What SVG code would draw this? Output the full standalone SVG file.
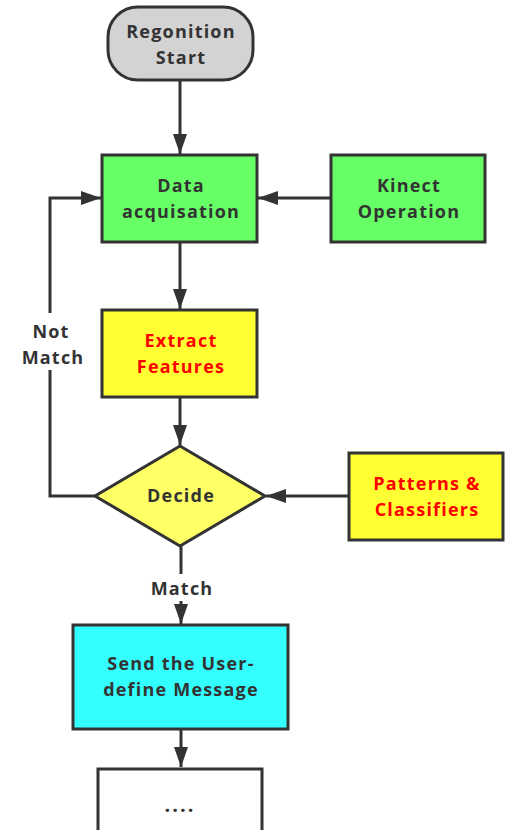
<svg xmlns="http://www.w3.org/2000/svg" width="506" height="830" viewBox="0 0 506 830">
<defs>
<style>
.n{stroke:#333;stroke-width:3}
.t{font-family:"Open Sans","DejaVu Sans",sans-serif;font-weight:bold;font-size:18px;letter-spacing:1.2px;fill:#333;text-anchor:middle}
.r{fill:#ff0000}
.c{fill:none;stroke:#333;stroke-width:3}
</style>
<marker id="a" viewBox="0 0 20 14" refX="20" refY="7" markerWidth="20" markerHeight="14" markerUnits="userSpaceOnUse" orient="auto">
<path d="M0,0 L20,7 L0,14 Z" fill="#333"/>
</marker>
</defs>
<rect width="506" height="830" fill="#fff"/>
<g id="connectors">
<path class="c" d="M180,80 V154" marker-end="url(#a)"/>
<path class="c" d="M330,198 H258" marker-end="url(#a)"/>
<path class="c" d="M180,242 V309" marker-end="url(#a)"/>
<path class="c" d="M180,397 V445" marker-end="url(#a)"/>
<path class="c" d="M349,496 H266" marker-end="url(#a)"/>
<path class="c" d="M95,496 H50 V370"/>
<path class="c" d="M50,313 V198 H101" marker-end="url(#a)"/>
<text class="t" x="51" y="338">Not</text>
<text class="t" x="53" y="364">Match</text>
<path class="c" d="M181,546 V574"/>
<path class="c" d="M181,601 V624" marker-end="url(#a)"/>
<text class="t" x="182" y="595">Match</text>
<path class="c" d="M181,729 V767" marker-end="url(#a)"/>
</g>
<g id="start">
<rect class="n" x="108" y="7" width="145" height="73" rx="30" fill="#d3d3d3"/>
<text class="t" x="181" y="38">Regonition</text>
<text class="t" x="181" y="64">Start</text>
</g>
<g id="data">
<rect class="n" x="102" y="155" width="155" height="87" fill="#66ff66"/>
<text class="t" x="181" y="192">Data</text>
<text class="t" x="181" y="218">acquisation</text>
</g>
<g id="kinect">
<rect class="n" x="331" y="155" width="154" height="87" fill="#66ff66"/>
<text class="t" x="409" y="192">Kinect</text>
<text class="t" x="409" y="218">Operation</text>
</g>
<g id="extract">
<rect class="n" x="102" y="310" width="155" height="87" fill="#ffff33"/>
<text class="t r" x="181" y="347">Extract</text>
<text class="t r" x="181" y="373">Features</text>
</g>
<g id="decide">
<polygon class="n" points="180,446 265,496 180,546 95,496" fill="#ffff66"/>
<text class="t" x="181" y="502">Decide</text>
</g>
<g id="patterns">
<rect class="n" x="349" y="453" width="154" height="87" fill="#ffff33"/>
<text class="t r" x="427" y="490">Patterns &amp;</text>
<text class="t r" x="427" y="516">Classifiers</text>
</g>
<g id="send">
<rect class="n" x="73" y="625" width="215" height="104" fill="#33ffff"/>
<text class="t" x="181" y="670">Send the User-</text>
<text class="t" x="181" y="696">define Message</text>
</g>
<g id="more">
<rect class="n" x="98" y="769" width="164" height="70" fill="#fff"/>
<text class="t" x="180" y="812" style="font-size:20px;letter-spacing:2px">....</text>
</g>
</svg>
